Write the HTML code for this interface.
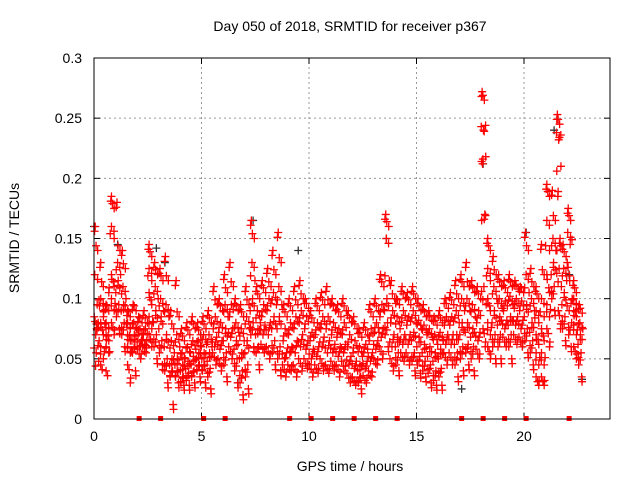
<!DOCTYPE html>
<html><head><meta charset="utf-8"><style>
body{margin:0;background:#fff}
svg{font-family:"Liberation Sans",sans-serif}
</style></head><body>
<svg id="chart" width="640" height="480" xmlns="http://www.w3.org/2000/svg">
<rect width="640" height="480" fill="#fff"/>
<text x="350" y="31" font-size="14" text-anchor="middle">Day 050 of 2018, SRMTID for receiver p367</text>
<text x="350" y="471" font-size="14" text-anchor="middle">GPS time / hours</text>
<text x="0" y="0" font-size="14" text-anchor="middle" transform="translate(19,238) rotate(-90)">SRMTID / TECUs</text>
<g id="grid"></g>
<g id="ticks"></g>
<g id="black"></g>
<g id="red"></g>
<g id="squares"></g>
<rect x="94" y="58" width="516" height="361" fill="none" stroke="#000" stroke-width="1"/>
</svg>
<script>
const xTicks=[0,5,10,15,20];
const yTicks=[0,0.05,0.1,0.15,0.2,0.25,0.3];
const yTickLabels=["0","0.05","0.1","0.15","0.2","0.25","0.3"];
const binWidth=0.25;
const redBins=[
"160,140,120,95,85,75,65,55,48,70,80","130,110,100,90,80,70,60,50,45,85","95,90,80,75,70,65,60,55,40,105","185,175,160,150,120,110,100,90,80,70",
"180,140,130,120,115,105,95,85,75","140,125,110,100,95,90,80,70,60","90,85,80,75,70,65,60,55,45,30","95,90,80,75,70,65,60,55,40",
"85,80,75,70,65,60,58,50","90,80,75,70,65,62,60,55","145,135,125,115,105,95,85,75,70,60","130,120,110,100,90,80,70,60,50",
"125,115,100,90,85,75,65,55,45","135,115,95,85,70,60,50,40,30","90,75,65,55,50,45,40,35,12","115,85,70,60,50,45,40,35,30",
"75,65,55,50,45,40,35,30,28","80,70,60,55,48,42,38,32,28","85,75,65,58,52,45,40,35,30","80,70,65,60,55,50,45,40,35",
"85,75,70,62,55,50,45,40,30","90,80,70,60,55,48,42,35,25","110,95,85,75,68,60,55,45","100,90,80,72,65,58,50,40",
"120,105,95,85,75,65,55,45,35","130,110,95,85,75,68,60,50","100,90,80,72,65,58,50,40,30","95,85,75,65,55,50,40,30,20",
"110,95,85,75,65,55,45,35,25","165,150,130,115,100,90,80,70,60","110,100,90,80,75,70,60,55,45","115,105,95,85,78,70,62,55",
"125,110,100,90,80,70,60,50","140,120,105,95,85,75,65,55,45","155,130,110,95,85,75,60,50,40","95,85,75,65,55,50,45,35",
"100,90,80,70,60,55,45,40","110,95,85,75,65,55,45,35","115,100,90,80,70,60,50,40","100,92,85,75,65,58,50,42",
"90,80,72,65,58,50,45,35","100,90,80,70,60,52,45,38","105,95,85,75,68,60,50,40","110,95,85,75,65,55,45,38",
"100,90,80,70,62,55,48,40","95,85,75,68,60,52,45,35","100,90,80,70,62,55,48,40","90,80,70,60,52,45,38,30",
"85,75,65,55,48,42,35,28","75,68,60,52,45,40,35,30,25","80,70,62,55,48,42,36,30","95,85,75,65,55,48,40,35",
"100,90,80,72,65,58,50,45","120,110,95,85,75,68,60,50","170,160,150,115,100,90,80,70,60","115,100,90,80,70,60,50,40",
"100,95,85,75,68,60,55,45,40","110,100,90,80,70,62,55,48","105,95,85,78,70,62,55,45","110,100,90,80,72,65,55,48,40",
"100,90,82,75,68,60,52,45,38","95,85,78,70,62,55,48,40,35","90,82,75,68,60,52,45,38,30","85,78,70,62,55,48,40,32,28",
"90,80,72,65,58,50,42,35,28","100,92,85,78,70,62,55,45","105,95,85,78,70,62,55,45","115,100,90,80,70,62,55,45,35",
"120,110,100,90,80,70,60,50,40","130,110,100,90,80,72,62,55,45","115,105,95,85,75,68,60,50,40","110,100,90,80,72,65,58,50",
"272,265,243,240,218,212,170,165,110,95,75,60","150,140,125,115,100,90,80,70,60,50","135,120,110,100,90,80,70,60,50","120,110,100,92,85,78,70,60,50",
"115,105,98,90,82,75,68,60","120,110,102,95,85,78,70,60,50","115,108,100,92,85,78,70,62","110,105,98,90,82,75,68,60",
"155,140,120,105,95,85,75,65,55","125,110,100,90,80,72,65,55,45","110,100,90,80,70,62,55,45,35,28","145,120,100,85,75,65,55,45,35,28",
"195,185,165,140,120,105,95,85,75,60","190,165,150,140,130,120,110,100,90","253,245,238,232,210,185,150,140,125,110,90,75","145,135,125,115,105,95,85,75,65",
"175,165,155,145,130,115,100,90,80,70,60","115,105,100,95,90,85,78,70,60,50","95,88,80,75,70,62,55,45,35"
];
const blackTimes=[0.0,1.1,2.9,3.3,18.1,21.4,7.4,20.1,22.1,22.7,17.1,6.7,9.5,13.6];
const blackValues=[0.160,0.145,0.142,0.130,0.212,0.240,0.165,0.155,0.120,0.033,0.025,0.030,0.140,0.150];
const markerTimes=[2.1,3.1,5.1,6.1,9.1,10.1,11.1,12.1,13.1,14.1,17.1,18.1,19.1,20.1,22.1];

const X0=94,X1=610,Y0=419,Y1=58;
const xs=t=>X0+t/24*(X1-X0);
const ys=v=>Y0-v/0.3*(Y0-Y1);
const NS="http://www.w3.org/2000/svg";
function mk(tag,attrs,parent){const e=document.createElementNS(NS,tag);for(const k in attrs)e.setAttribute(k,attrs[k]);parent.appendChild(e);return e;}
const grid=document.getElementById('grid'),ticks=document.getElementById('ticks');
xTicks.forEach(t=>{const x=xs(t);
 if(t>0){const g=mk('line',{x1:x,x2:x,y1:Y0,y2:Y1,stroke:'#999','stroke-dasharray':'2,3'},grid);
 
 }
 mk('line',{x1:x,x2:x,y1:Y0,y2:Y0-6,stroke:'#000'},ticks);
 mk('line',{x1:x,x2:x,y1:Y1,y2:Y1+6,stroke:'#000'},ticks);
 const l=mk('text',{x:x,y:Y0+22,'font-size':14,'text-anchor':'middle'},ticks);l.textContent=t;
 
 
});
yTicks.forEach((v,i)=>{const y=ys(v);
 if(v>0&&v<0.3){const g=mk('line',{x1:X0,x2:X1,y1:y,y2:y,stroke:'#999','stroke-dasharray':'2,3'},grid);
 
 }
 mk('line',{x1:X0,x2:X0+6,y1:y,y2:y,stroke:'#000'},ticks);
 mk('line',{x1:X1,x2:X1-6,y1:y,y2:y,stroke:'#000'},ticks);
 const l=mk('text',{x:X0-12,y:y+5,'font-size':14,'text-anchor':'end'},ticks);l.textContent=yTickLabels[i];
 
 
});
function plus(g,t,v,col){const x=xs(t),y=ys(v);
 const p=mk('path',{d:`M${x-4},${y}h8M${x},${y-4}v8`,stroke:col,'stroke-width':1.3,fill:'none'},g);
 
 }
const bg=document.getElementById('black');
blackTimes.forEach((t,i)=>plus(bg,t,blackValues[i],'#333'));
const rg=document.getElementById('red');
redBins.forEach((s,b)=>{const vals=s.split(',').map(Number);const n=vals.length;
 vals.forEach((v,i)=>{
  const j=(i*5+2)%n;const t=b*binWidth+(j+0.5)/n*binWidth;plus(rg,t,v/1000,'#f00');
  const k=(i*3+1)%n;const t2=b*binWidth+(k+0.2)/n*binWidth;plus(rg,t2,(v+(i%2?4:-4))/1000,'#f00');
 });
});
const sq=document.getElementById('squares');
markerTimes.forEach(t=>{const r=mk('rect',{x:xs(t)-2.5,y:Y0-3,width:5,height:5,fill:'#f00'},sq);
 
 });
</script>
</body></html>
